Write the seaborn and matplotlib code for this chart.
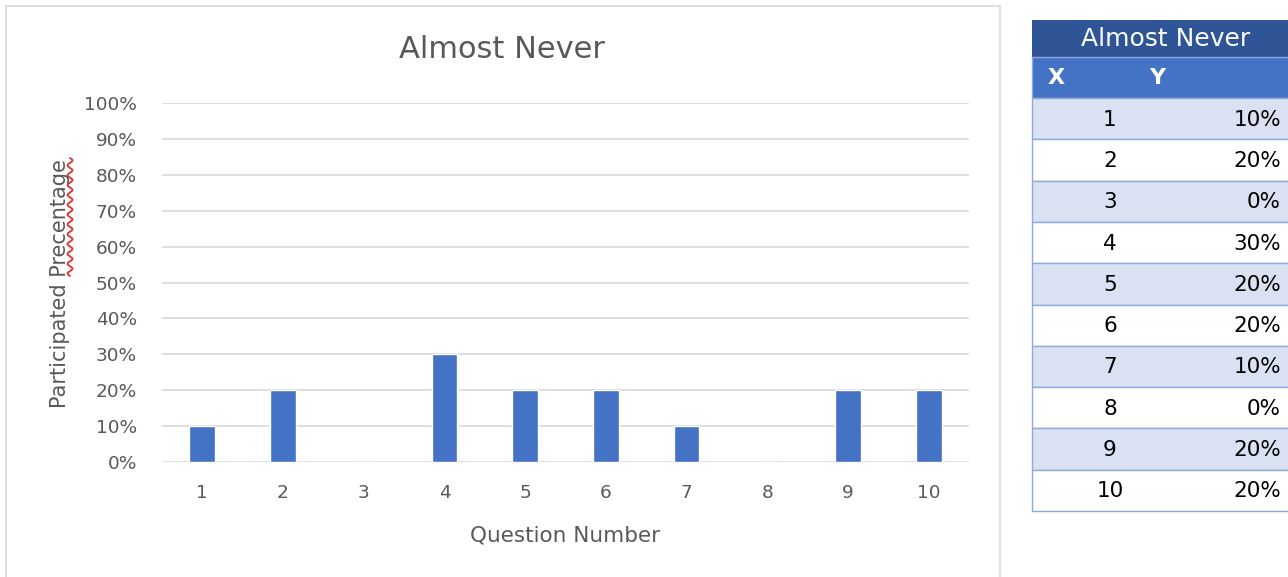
import numpy as np
import pandas as pd
import matplotlib
matplotlib.use("Agg")
import matplotlib.pyplot as plt
from matplotlib.patches import Rectangle
import seaborn as sns

questions = [1, 2, 3, 4, 5, 6, 7, 8, 9, 10]
almost_never = [0.10, 0.20, 0.00, 0.30, 0.20, 0.20, 0.10, 0.00, 0.20, 0.20]
y_ticks = [0.0, 0.1, 0.2, 0.3, 0.4, 0.5, 0.6, 0.7, 0.8, 0.9, 1.0]

title = "Almost Never"
x_label = "Question Number"
y_label = "Participated Precentage"

sns.set_theme(style="white")
plt.rcParams["font.family"] = ["DejaVu Sans"]

W, H = 1288, 577
fig = plt.figure(figsize=(W / 100, H / 100), dpi=100)
fig.patch.set_facecolor("white")

def fx(px):
    return px / W

def fy(py):
    return 1 - py / H

# chart panel outline
fig.patches.append(Rectangle((fx(6), fy(590)), fx(1000) - fx(6), fy(6) - fy(590),
                             transform=fig.transFigure, fill=False,
                             edgecolor="#D9D9D9", linewidth=1.2))

df = pd.DataFrame({"Question": [str(q) for q in questions], "Value": almost_never})

ax = fig.add_axes([fx(162), fy(461.7), fx(969) - fx(162), fy(103.3) - fy(461.7)])
sns.barplot(data=df, x="Question", y="Value", color="#4472C4", width=0.32,
            saturation=1, ax=ax)
ax.set_ylim(0, 1.0)
ax.set_xlim(-0.5, len(questions) - 0.5)
ax.set_yticks(y_ticks)
ax.set_yticklabels([f"{int(round(t * 100))}%" for t in y_ticks])
ax.yaxis.grid(True, color="#D9D9D9", linewidth=1.2)
ax.set_axisbelow(True)
for s in ax.spines.values():
    s.set_visible(False)
ax.tick_params(axis="both", length=0, labelsize=13.3, colors="#595959")
ax.tick_params(axis="y", pad=18)
ax.tick_params(axis="x", pad=16)
ax.set_xlabel(x_label, fontsize=15.5, color="#595959", labelpad=17)
ax.set_ylabel("")
fig.text(fx(60), fy(284), y_label, rotation=90, ha="center", va="center",
         fontsize=15, color="#595959")
# spell-check squiggle under the misspelled word
sx = np.linspace(0, 1, 200)
squig_y = fy(158) + (fy(276) - fy(158)) * sx
squig_x = fx(70) + fx(2.5) * np.sin(sx * 2 * np.pi * 12)
fig.add_artist(plt.Line2D(squig_x, squig_y, color="#E03030", linewidth=1.3,
                          transform=fig.transFigure))
fig.text(fx(502), fy(49), title, ha="center", va="center", fontsize=22,
         color="#595959")

# data table
tx0, tx1 = 1032, 1300
title_top, head_top, body_top, body_bot = 20, 57, 98, 511
row_h = (body_bot - body_top) / len(questions)
tab = fig.add_axes([0, 0, 1, 1], facecolor="none")
tab.set_xlim(0, W)
tab.set_ylim(H, 0)
tab.axis("off")
tab.add_patch(Rectangle((tx0, title_top), tx1 - tx0, head_top - title_top,
                        facecolor="#2F5597", edgecolor="none"))
tab.add_patch(Rectangle((tx0, head_top), tx1 - tx0, body_top - head_top,
                        facecolor="#4472C4", edgecolor="#8EA9DB", linewidth=1))
tab.text(1166, (title_top + head_top) / 2 + 1, title, ha="center", va="center",
         fontsize=18, color="white")
tab.text(1056, (head_top + body_top) / 2, "X", ha="center", va="center",
         fontsize=16, color="white", fontweight="bold")
tab.text(1157, (head_top + body_top) / 2, "Y", ha="center", va="center",
         fontsize=16, color="white", fontweight="bold")
for i, (q, v) in enumerate(zip(questions, almost_never)):
    top = body_top + i * row_h
    fc = "#D9E1F2" if i % 2 == 0 else "white"
    tab.add_patch(Rectangle((tx0, top), tx1 - tx0, row_h, facecolor=fc,
                            edgecolor="#8EA9DB", linewidth=1))
    tab.text(1110, top + row_h / 2 + 1, str(q), ha="center", va="center",
             fontsize=15.5, color="black")
    tab.text(1281, top + row_h / 2 + 1, f"{int(round(v * 100))}%", ha="right",
             va="center", fontsize=15.5, color="black")

fig.savefig("out.png", dpi=100)
